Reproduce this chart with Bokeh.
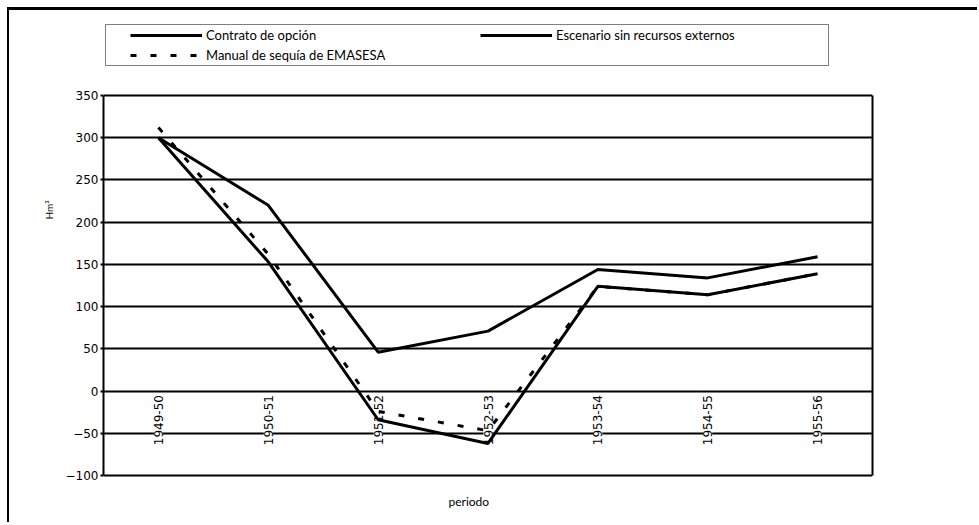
import math
from bokeh.plotting import figure
from bokeh.models import (ColumnDataSource, Range1d, FactorRange, Legend, LegendItem,
                          FixedTicker, LinearAxis, Title)
from bokeh.core.properties import value
from bokeh.embed import file_html
from bokeh.resources import INLINE

periods = ["1949-50", "1950-51", "1951-52", "1952-53", "1953-54", "1954-55", "1955-56"]
contrato = [300, 220, 46, 71, 144, 134, 159]
escenario = [300, 153, -34, -62, 124, 114, 139]
manual = [312, 162, -24, -47, 124, 114, 139]
y_ticks = [-100, -50, 0, 50, 100, 150, 200, 250, 300, 350]

TICK_FONT = "DejaVu Sans"
FONT = "Lato"

# layout (canvas pixels)
W, H = 970, 515
PLOT_TOP, PLOT_BOTTOM = 85, 465          # pixel rows of 350 and -100
PX = (PLOT_BOTTOM - PLOT_TOP) / (y_ticks[-1] - y_ticks[0])
FRAME_BOTTOM = 467

src = ColumnDataSource(dict(period=periods, contrato=contrato, escenario=escenario, manual=manual))

p = figure(width=W, height=H, title=None,
           x_range=FactorRange(factors=periods, range_padding=0),
           y_range=Range1d(y_ticks[0] - (FRAME_BOTTOM - PLOT_BOTTOM) / PX, y_ticks[-1] + PLOT_TOP / PX),
           output_backend="svg", toolbar_location=None,
           min_border_left=94, min_border_right=107, min_border_top=0, min_border_bottom=H - FRAME_BOTTOM)

p.background_fill_color = "white"
p.border_fill_color = "white"
p.outline_line_color = None
p.styles = {"border-top": "3px solid black", "border-left": "2px solid black",
            "margin-top": "7px", "margin-left": "7px"}

# category labels along the zero line
p.text(x="period", y=0, text="period", source=src, angle=math.pi / 2,
       text_align="right", text_baseline="middle", y_offset=4,
       text_font=value(TICK_FONT), text_font_size="12px", text_color="black",
       background_fill_color="white")

r1 = p.line(x="period", y="contrato", source=src, line_color="black", line_width=3)
r2 = p.line(x="period", y="escenario", source=src, line_color="black", line_width=3)
r3 = p.line(x="period", y="manual", source=src, line_color="black", line_width=3, line_dash="6 14")

# y axis
p.yaxis.ticker = FixedTicker(ticks=y_ticks)
p.yaxis.bounds = (y_ticks[0], y_ticks[-1])
p.yaxis.major_label_text_font = TICK_FONT
p.yaxis.major_label_text_font_size = "12px"
p.yaxis.major_label_text_color = "black"
p.yaxis.axis_line_color = "black"
p.yaxis.axis_line_width = 2
p.yaxis.major_tick_line_color = "black"
p.yaxis.major_tick_line_width = 2
p.yaxis.major_tick_out = 3
p.yaxis.major_tick_in = 0
p.yaxis.minor_tick_line_color = None
p.yaxis.major_label_standoff = 2

p.add_layout(Title(text="Hm³", align="left", offset=258, text_font=FONT, text_font_size="10px",
                   text_font_style="normal", text_color="black", standoff=15), "left")

right_axis = LinearAxis(ticker=FixedTicker(ticks=[]), bounds=(y_ticks[0], y_ticks[-1]),
                        axis_line_color="black", axis_line_width=2,
                        major_tick_line_color=None, minor_tick_line_color=None)
p.add_layout(right_axis, "right")

p.ygrid.ticker = FixedTicker(ticks=y_ticks)
p.ygrid.grid_line_color = "black"
p.ygrid.grid_line_width = 2
p.xgrid.visible = False

p.xaxis.visible = False
p.add_layout(Title(text="periodo", align="left", offset=345, text_font=FONT, text_font_size="12px",
                   text_font_style="normal", text_color="black", standoff=28), "below")

legend = Legend(items=[
    LegendItem(label="Contrato de opción", renderers=[r1]),
    LegendItem(label="Escenario sin recursos externos", renderers=[r2]),
    LegendItem(label="Manual de sequía de EMASESA", renderers=[r3]),
], orientation="horizontal", ncols=2, location=(2, 411), margin=0, padding=2,
    title=" ", title_location="left", title_text_font_size="1px", title_standoff=21,
    glyph_width=72, glyph_height=16, label_height=16, label_width=270, label_standoff=4, spacing=4,
    label_text_font=FONT, label_text_font_size="13px", label_text_color="black",
    border_line_color="black", border_line_width=1.5, background_fill_color="white", background_fill_alpha=1)
p.add_layout(legend, "center")

open("out.html", "w").write(file_html(p, INLINE))
